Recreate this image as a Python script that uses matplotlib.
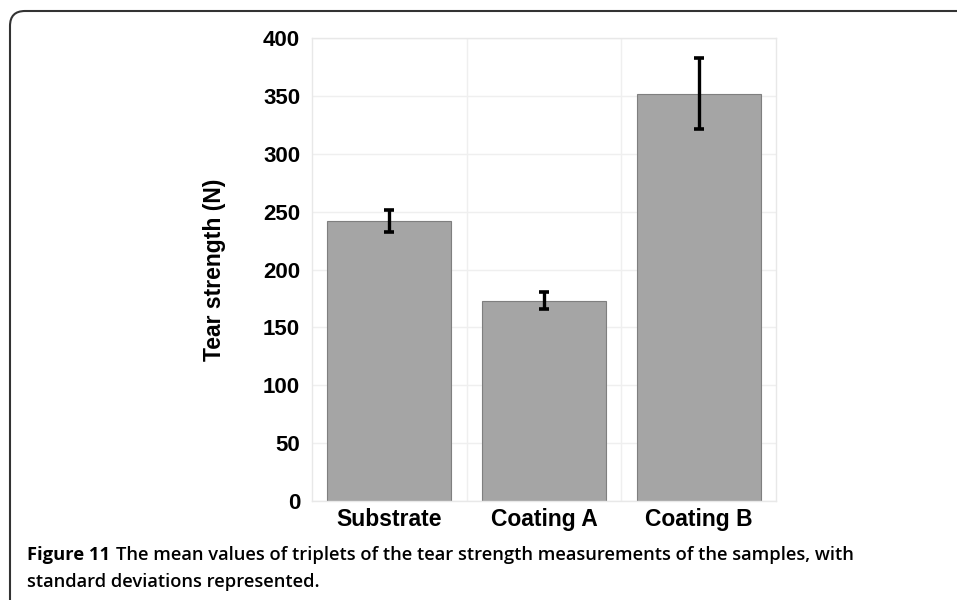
import matplotlib
matplotlib.use("Agg")
import matplotlib.pyplot as plt
from matplotlib.patches import FancyBboxPatch
from matplotlib.transforms import IdentityTransform

# data
categories = ["Substrate", "Coating A", "Coating B"]
means = [242, 173, 352]
stdevs = [9.5, 7.5, 30.5]
yticks = [0, 50, 100, 150, 200, 250, 300, 350, 400]

W, H = 957, 600
fig = plt.figure(figsize=(W / 100, H / 100), dpi=100)

# rounded frame round the whole figure (open to the right and bottom)
frame = FancyBboxPatch((10, -40), 1000, 629, boxstyle="round,pad=0,rounding_size=15",
                       transform=IdentityTransform(), fill=False,
                       edgecolor="#333333", linewidth=1.5)
fig.patches.append(frame)

ax = fig.add_axes([312 / W, (H - 501) / H, (776 - 312) / W, (501 - 38) / H])
x = list(range(len(categories)))
ax.bar(x, means, width=0.8, color="#a5a5a5", edgecolor="#7f7f7f", linewidth=0.8, zorder=2)
ax.errorbar(x, means, yerr=stdevs, fmt="none", ecolor="black", elinewidth=2.4,
            capsize=3.5, capthick=2.6, zorder=3)

ax.set_xlim(-0.5, 2.5)
ax.set_ylim(0, 400)
ax.set_yticks(yticks)
ax.set_xticks(x)
ax.set_xticklabels(categories, fontsize=16.5, fontweight="bold", family="Liberation Sans")
ax.set_xticks([0.5, 1.5], minor=True)
for lab in ax.get_yticklabels():
    lab.set_fontsize(16)
    lab.set_fontweight("bold")
    lab.set_family("Liberation Sans")
ax.tick_params(axis="both", which="both", length=0)
ax.tick_params(axis="y", pad=8.5)
ax.tick_params(axis="x", pad=5)
ax.grid(True, axis="y", which="major", color="#efefef", linewidth=1, zorder=0)
ax.grid(True, axis="x", which="minor", color="#efefef", linewidth=1, zorder=0)
ax.grid(False, axis="x", which="major")
ax.set_axisbelow(True)
for s in ax.spines.values():
    s.set_color("#e8e8e8")
    s.set_linewidth(1)

ax.set_ylabel("Tear strength (N)", fontsize=16.5, fontweight="bold", family="Liberation Sans")
ax.yaxis.set_label_coords(-0.185, 0.5)

# caption
cap_size = 13.2
line1_y, line2_y = 555, 582
t1 = fig.text(27 / W, 1 - line1_y / H, "Figure 11", fontsize=cap_size, fontweight="bold",
              family="Open Sans", va="center", ha="left")
r = fig.canvas.get_renderer()
bb = t1.get_window_extent(renderer=r)
fig.text((bb.x1 + 6) / W, 1 - line1_y / H,
         "The mean values of triplets of the tear strength measurements of the samples, with",
         fontsize=cap_size, fontweight="semibold", family="Open Sans", va="center", ha="left")
fig.text(27 / W, 1 - line2_y / H, "standard deviations represented.", fontsize=cap_size,
         fontweight="semibold", family="Open Sans", va="center", ha="left")

fig.savefig("out.png", dpi=100)
